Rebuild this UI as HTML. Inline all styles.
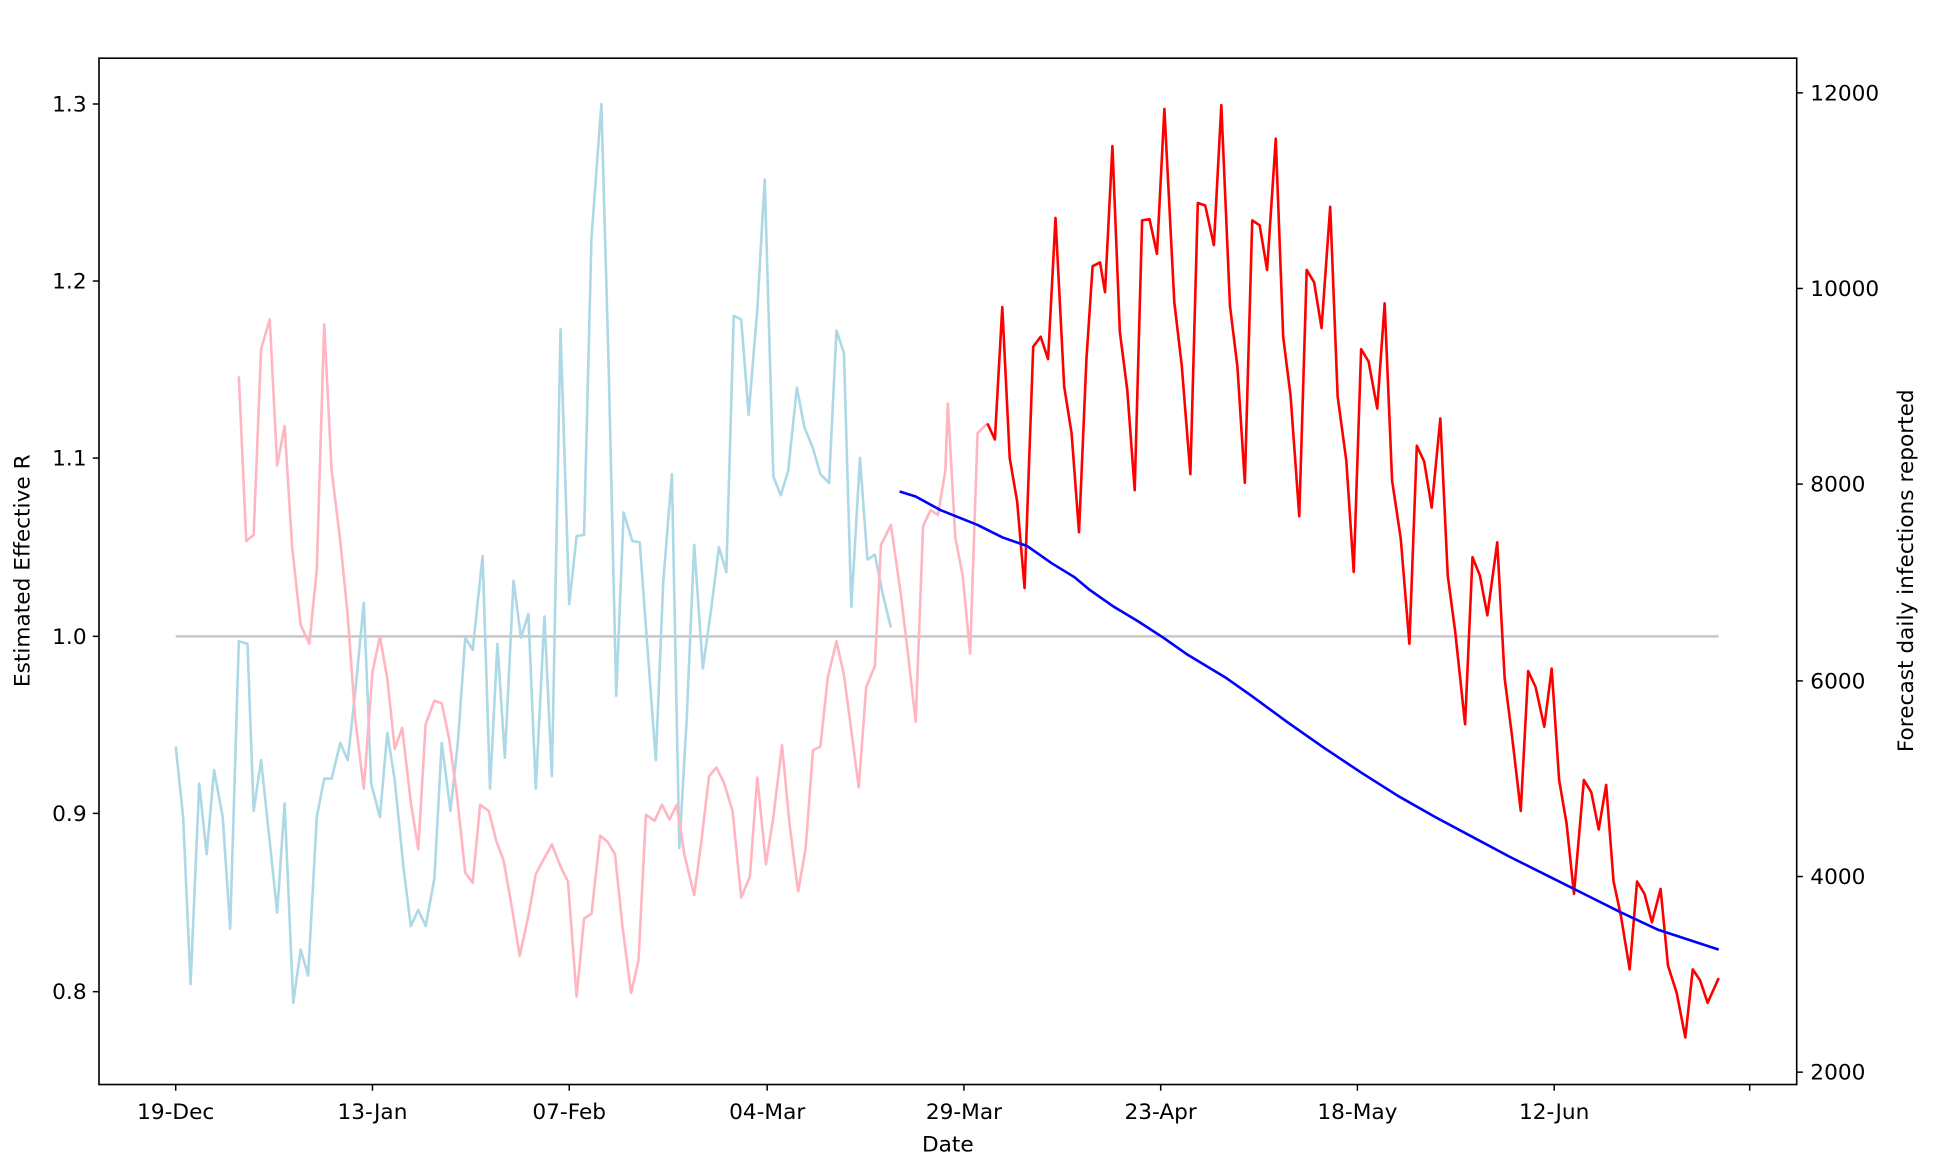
<!DOCTYPE html>
<html><head><meta charset="utf-8"><style>
html,body{margin:0;padding:0;background:#fff;}
svg{display:block;}
text{font-family:"DejaVu Sans","Liberation Sans",sans-serif;font-size:17.5px;fill:#000;}
</style></head><body>
<svg width="1939" height="1165" viewBox="0 0 1567 941" preserveAspectRatio="none">
<rect x="0" y="0" width="1567" height="941" fill="#fff"/>
<line x1="142" y1="514" x2="1389" y2="514" stroke="#c8c8c8" stroke-width="2"/>
<polyline fill="none" stroke="#add8e6" stroke-width="2.1" stroke-linejoin="round" points="142,603 148,660 154,795 161,633 167,690 173,622 180,660 186,750 193,518 200,520 205,655 211,614 218,680 224,737 230,649 237,810 243,767 249,788 256,660 262,629 268,629 275,600 281,614 287,560 294,487 300,633 307,660 313,592 319,630 326,700 332,748 338,735 344,748 351,710 357,600 364,655 370,600 376,515 382,525 390,449 396,637 402,520 408,612 415,469 421,515 427,496 433,637 440,498 446,627 453,266 460,488 466,433 472,432 478,192 486,84 492,300 498,562 504,414 511,437 517,438 523,520 530,614 536,470 543,383 549,685 555,580 561,440 568,540 575,490 581,442 587,462 593,255 599,258 605,335 612,250 618,145 625,385 631,400 637,380 644,313 650,345 657,362 663,383 670,390 676,267 682,285 688,490 695,370 701,452 707,448 713,478 720,507"/>
<polyline fill="none" stroke="#ffb6c1" stroke-width="2.1" stroke-linejoin="round" points="193,304 199,437 205,432 211,282 218,258 224,376 230,344 236,441 243,505 250,520 256,460 262,262 268,380 275,437 281,497 287,580 294,637 301,543 307,514 313,548 319,605 325,588 332,648 338,686 344,585 351,566 357,568 363,597 369,640 376,705 382,713 388,650 395,655 401,679 407,695 414,735 420,772 427,740 433,706 440,693 446,682 453,700 459,712 466,805 472,742 478,738 485,675 491,680 497,690 503,748 510,802 516,776 522,658 529,663 535,650 541,662 547,650 553,690 561,723 567,678 573,627 579,620 585,632 592,655 599,725 606,708 612,628 619,698 625,660 632,602 638,665 645,720 651,686 657,606 663,603 669,547 676,518 682,545 688,590 694,636 700,555 707,538 712,440 720,424 728,480 734,530 740,583 746,425 752,412 758,416 764,380 766,326 772,434 778,465 784,528 790,350 798,342"/>
<polyline fill="none" stroke="#ff0000" stroke-width="2.1" stroke-linejoin="round" points="798,342 804,355 810,248 816,370 822,405 828,475 835,280 841,272 847,290 853,176 860,312 866,350 872,430 878,290 883,215 889,212 893,236 899,118 905,268 911,315 917,396 923,178 929,177 935,205 941,88 949,244 955,295 962,383 968,164 974,166 981,198 987,85 994,247 1000,296 1006,390 1012,178 1018,182 1024,218 1031,112 1037,272 1043,320 1050,417 1056,218 1062,228 1068,265 1075,167 1081,320 1088,372 1094,462 1100,282 1106,292 1113,330 1119,245 1125,388 1132,435 1139,520 1145,360 1151,373 1157,410 1164,338 1170,465 1176,510 1184,585 1190,450 1196,465 1202,497 1210,438 1216,548 1222,595 1229,655 1235,542 1241,555 1248,587 1254,540 1260,630 1266,665 1272,722 1280,630 1286,640 1292,670 1298,634 1304,712 1310,740 1317,783 1323,712 1329,722 1335,745 1342,718 1348,780 1355,802 1362,838 1368,783 1374,792 1380,810 1389,790"/>
<polyline fill="none" stroke="#0000ff" stroke-width="2.1" stroke-linejoin="round" points="727,397 740,401 760,412 790,424 810,434 830,441 850,455 868,466 880,476 900,490 920,502 940,515 960,529 990,547 1010,561 1040,583 1070,604 1100,624 1130,643 1160,660 1190,676 1220,692 1250,707 1280,722 1310,737 1340,751 1389,767"/>
<rect x="80" y="47" width="1372" height="829" fill="none" stroke="#000" stroke-width="1.3"/>
<g stroke="#000" stroke-width="1.2">
<line x1="80" y1="84" x2="75" y2="84"/><line x1="80" y1="227" x2="75" y2="227"/><line x1="80" y1="370" x2="75" y2="370"/><line x1="80" y1="514" x2="75" y2="514"/><line x1="80" y1="657" x2="75" y2="657"/><line x1="80" y1="801" x2="75" y2="801"/>
<line x1="1452" y1="75" x2="1457" y2="75"/><line x1="1452" y1="233" x2="1457" y2="233"/><line x1="1452" y1="391" x2="1457" y2="391"/><line x1="1452" y1="550" x2="1457" y2="550"/><line x1="1452" y1="708" x2="1457" y2="708"/><line x1="1452" y1="866" x2="1457" y2="866"/>
<line x1="142" y1="876" x2="142" y2="881"/><line x1="301" y1="876" x2="301" y2="881"/><line x1="460" y1="876" x2="460" y2="881"/><line x1="620" y1="876" x2="620" y2="881"/><line x1="779" y1="876" x2="779" y2="881"/><line x1="938" y1="876" x2="938" y2="881"/><line x1="1097" y1="876" x2="1097" y2="881"/><line x1="1256" y1="876" x2="1256" y2="881"/><line x1="1414" y1="876" x2="1414" y2="881"/>
</g>
<g text-anchor="end">
<text x="70" y="90">1.3</text><text x="70" y="233">1.2</text><text x="70" y="376">1.1</text><text x="70" y="520">1.0</text><text x="70" y="663">0.9</text><text x="70" y="807">0.8</text>
</g>
<g text-anchor="start">
<text x="1463" y="81">12000</text><text x="1463" y="239">10000</text><text x="1463" y="397">8000</text><text x="1463" y="556">6000</text><text x="1463" y="714">4000</text><text x="1463" y="872">2000</text>
</g>
<g text-anchor="middle">
<text x="142" y="904">19-Dec</text><text x="301" y="904">13-Jan</text><text x="460" y="904">07-Feb</text><text x="620" y="904">04-Mar</text><text x="779" y="904">29-Mar</text><text x="938" y="904">23-Apr</text><text x="1097" y="904">18-May</text><text x="1256" y="904">12-Jun</text>
<text x="766" y="930">Date</text>
<text transform="translate(24,461) rotate(-90)">Estimated Effective R</text>
<text transform="translate(1546,461) rotate(-90)">Forecast daily infections reported</text>
</g>
</svg>
</body></html>
